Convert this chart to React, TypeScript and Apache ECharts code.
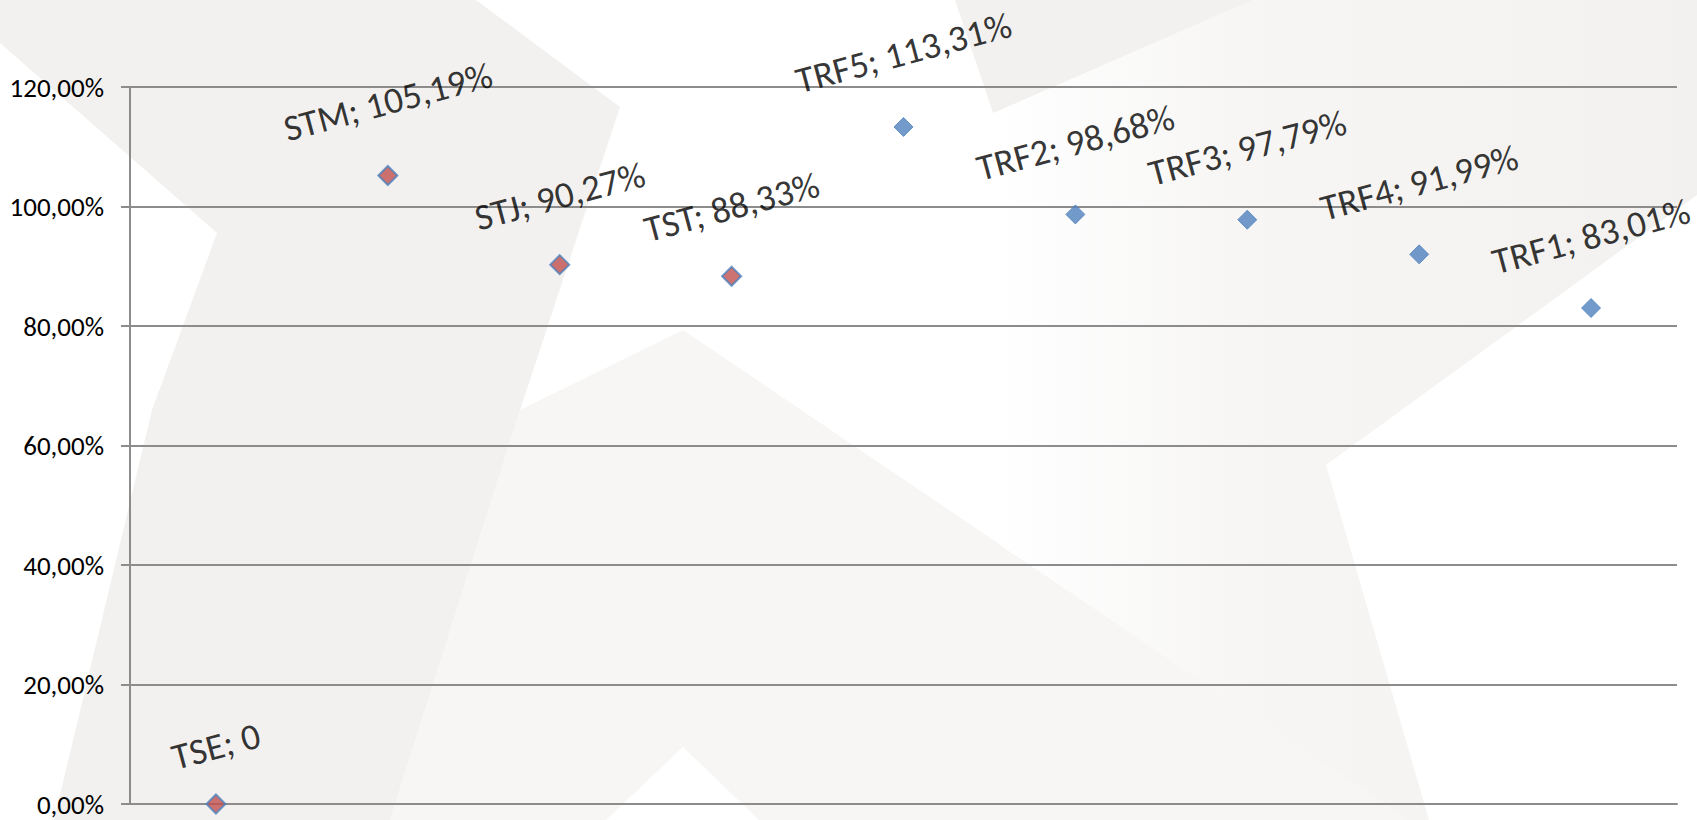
import React, { useEffect, useRef } from "react";
import * as echarts from "echarts";

const categories = ["TSE", "STM", "STJ", "TST", "TRF5", "TRF2", "TRF3", "TRF4", "TRF1"];
const values = [0, 105.19, 90.27, 88.33, 113.31, 98.68, 97.79, 91.99, 83.01];
// group 0 = red markers, group 1 = blue markers
const groups = [0, 0, 0, 0, 1, 1, 1, 1, 1];
const yTicks = { min: 0, max: 120, interval: 20 };

const FONT = "Carlito, Calibri, Lato, sans-serif";
const LABEL_SIZE = 37;
const AXIS_SIZE = 27;
const SYMBOL = 19;
const ROT = 15;

function fmtPct(v: number) {
  return v.toFixed(2).replace(".", ",") + "%";
}
function labelText(cat: string, v: number) {
  return `${cat}; ${v === 0 ? "0" : fmtPct(v)}`;
}

export default function App() {
  const ref = useRef<HTMLDivElement>(null);
  useEffect(() => {
    document.body.style.margin = "0";
    const chart = echarts.init(ref.current!, undefined, { renderer: "svg" });
    const canvas = document.createElement("canvas");
    const ctx = canvas.getContext("2d")!;
    ctx.font = `${LABEL_SIZE}px ${FONT}`;
    const s = Math.sin((ROT * Math.PI) / 180);
    const data = values.map((v, i) => {
      const t = labelText(categories[i], v);
      const w = ctx.measureText(t).width;
      const centerOff = 33 + (w * s + 0.65 * LABEL_SIZE) / 2;
      const red = groups[i] === 0;
      return {
        value: [categories[i], v],
        itemStyle: red
          ? { color: "#C0504D", borderColor: "#4F81BD", borderWidth: 2 }
          : { color: "#4F81BD", borderColor: "#4F81BD", borderWidth: 1 },
        label: { distance: centerOff - SYMBOL / 2 },
      };
    });
    const band = "#F3F1EF";
    const light = "#F7F6F5";
    chart.setOption({
      animation: false,
      backgroundColor: "#FFFFFF",
      graphic: [
        {
          type: "polygon",
          z: -100,
          silent: true,
          shape: {
            points: [
              [683, 330], [1407, 820], [759, 820], [683, 747], [606, 820], [390, 820], [520, 410],
            ],
          },
          style: { fill: light },
        },
        {
          type: "polygon",
          z: -99,
          silent: true,
          shape: {
            points: [
              [993, 113], [1253, 0], [1697, 0], [1697, 195], [1326, 465], [1429, 820], [1407, 820], [1000, 545],
            ],
          },
          style: {
            fill: new echarts.graphic.LinearGradient(0, 0, 1, 0, [
              { offset: 0, color: "#FFFFFF" },
              { offset: 0.35, color: "#F7F6F5" },
              { offset: 1, color: "#F3F1EF" },
            ]),
          },
        },
        {
          type: "polygon",
          z: -98,
          silent: true,
          shape: { points: [[955, 0], [993, 113], [1253, 0]] },
          style: { fill: band },
        },
        {
          type: "polygon",
          z: -97,
          silent: true,
          shape: {
            points: [
              [0, 0], [476, 0], [620, 107], [520, 410], [390, 820], [54, 820], [152, 410], [217, 233], [0, 43],
            ],
          },
          style: { fill: band },
        },
      ],
      grid: { left: 130, right: 20, top: 87, bottom: 16, containLabel: false },
      xAxis: {
        type: "category",
        data: categories,
        boundaryGap: true,
        axisLine: { show: true, lineStyle: { color: "#8C8C8C", width: 2 } },
        axisTick: { show: false },
        axisLabel: { show: false },
        splitLine: { show: false },
      },
      yAxis: {
        type: "value",
        min: yTicks.min,
        max: yTicks.max,
        interval: yTicks.interval,
        axisLine: { show: true, lineStyle: { color: "#8C8C8C", width: 2 } },
        axisTick: { show: true, length: 9, lineStyle: { color: "#8C8C8C", width: 2 } },
        axisLabel: {
          formatter: (v: number) => fmtPct(v),
          fontFamily: FONT,
          fontSize: AXIS_SIZE,
          lineHeight: 22,
          color: "#000",
          margin: 26,
        },
        splitLine: { show: true, lineStyle: { color: "#8C8C8C", width: 2 } },
      },
      series: [
        {
          type: "scatter",
          symbol: "diamond",
          symbolSize: SYMBOL,
          data,
          label: {
            show: true,
            position: "top",
            rotate: ROT,
            align: "center",
            verticalAlign: "middle",
            fontFamily: FONT,
            fontSize: LABEL_SIZE,
            color: "#000",
            formatter: (p: any) => labelText(p.value[0], p.value[1]),
          },
        },
      ],
    });
    return () => chart.dispose();
  }, []);
  return <div ref={ref} style={{ width: 1697, height: 820 }} />;
}
